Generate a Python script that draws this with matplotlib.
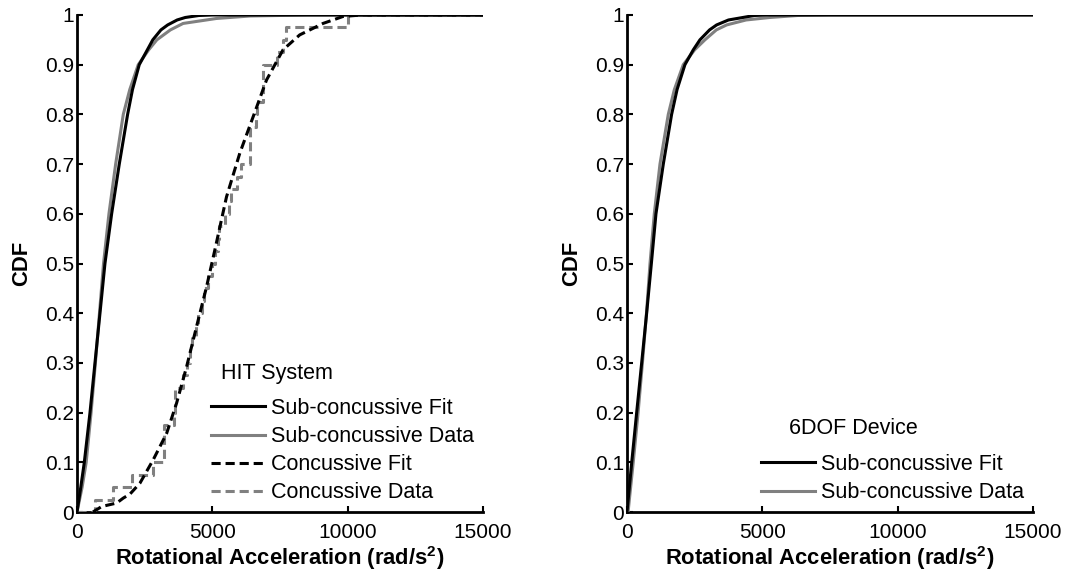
import numpy as np
import matplotlib
matplotlib.use('Agg')
import matplotlib.pyplot as plt

#==============================================================================
#DATA
#==============================================================================

# HIT system, sub-concussive fit / data (CDF value -> rotational acceleration)
hit_sub_fit_cdf = [0, 0.05, 0.1, 0.2, 0.3, 0.4, 0.5, 0.6, 0.7, 0.8, 0.85, 0.9, 0.93, 0.95, 0.97, 0.98, 0.99, 0.995, 0.999, 1.0, 1.0]
hit_sub_fit_acc = [0, 140, 270, 480, 664, 849, 1033, 1280, 1562, 1870, 2050, 2300, 2600, 2800, 3100, 3350, 3700, 4000, 4500, 5000, 15000]

hit_sub_data_cdf = [0, 0.05, 0.1, 0.2, 0.3, 0.4, 0.5, 0.6, 0.7, 0.8, 0.85, 0.9, 0.93, 0.95, 0.97, 0.983, 0.993, 0.998, 1.0, 1.0]
hit_sub_data_acc = [0, 190, 340, 520, 680, 830, 980, 1180, 1428, 1710, 1950, 2262, 2650, 2950, 3450, 3920, 5150, 6400, 8500, 15000]

# HIT system, concussive fit
hit_con_fit_acc = [590, 911, 1464, 1710, 1956, 2325, 2815, 3310, 3679, 4048, 4417, 4786, 5092, 5523, 6015, 6506, 7000, 7612, 8229, 9088, 9826, 10500, 15000]
hit_con_fit_cdf = [0, 0.011, 0.018, 0.028, 0.036, 0.058, 0.105, 0.158, 0.219, 0.292, 0.373, 0.453, 0.527, 0.634, 0.722, 0.795, 0.869, 0.930, 0.960, 0.983, 0.997, 1.0, 1.0]

# HIT system, concussive data (40 impacts, sorted)
hit_con_samples = [660, 1340, 2018, 2815, 3200, 3210, 3220, 3600, 3610, 3620,
                   3900, 4050, 4170, 4250, 4400, 4480, 4600, 4700, 4850, 4970,
                   5100, 5215, 5250, 5450, 5600, 5707, 5900, 6050, 6384, 6390,
                   6400, 6630, 6640, 6875, 6880, 6890, 7400, 7612, 7735, 10012]

# 6DOF device, sub-concussive fit / data
dof_fit_cdf = [0, 0.1, 0.2, 0.3, 0.4, 0.5, 0.6, 0.7, 0.8, 0.85, 0.9, 0.93, 0.95, 0.97, 0.98, 0.99, 0.995, 0.999, 1.0, 1.0]
dof_fit_acc = [0, 175, 357, 542, 726, 900, 1070, 1341, 1648, 1850, 2140, 2450, 2694, 3050, 3310, 3750, 4280, 4700, 5200, 15000]

dof_data_cdf = [0, 0.1, 0.2, 0.3, 0.4, 0.5, 0.6, 0.7, 0.8, 0.85, 0.9, 0.93, 0.95, 0.97, 0.98, 0.99, 0.995, 0.999, 1.0, 1.0]
dof_data_acc = [40, 230, 410, 570, 720, 850, 1008, 1218, 1525, 1750, 2078, 2500, 2878, 3300, 3680, 4400, 5277, 6300, 7500, 15000]

xticks = [0, 5000, 10000, 15000]
yticks = [0, 0.1, 0.2, 0.3, 0.4, 0.5, 0.6, 0.7, 0.8, 0.9, 1]
ytick_labels = ['0', '0.1', '0.2', '0.3', '0.4', '0.5', '0.6', '0.7', '0.8', '0.9', '1']

#==============================================================================
#SETTINGS
#==============================================================================

plt.rcParams['font.family'] = ['Liberation Sans', 'DejaVu Sans']
plt.rcParams['mathtext.fontset'] = 'custom'
plt.rcParams['mathtext.rm'] = 'Liberation Sans'
plt.rcParams['mathtext.bf'] = 'Liberation Sans:bold'

tick_font = 15
label_font = 15.8
legend_font = 15.5
lw = 2.2
grey = '0.5'
dash = (0, (3, 1.6))

#==============================================================================
#PLOTTING
#==============================================================================

f = plt.figure(figsize=(10.68, 5.75), dpi=100)
ax1 = f.add_axes([77/1068, 63/575, 406/1068, 497/575])
ax2 = f.add_axes([627/1068, 63/575, 406/1068, 497/575])

# empirical step curve for concussive data
n = len(hit_con_samples)
con_x = [0] + hit_con_samples + [15000]
con_y = [0] + [(i + 1) / n for i in range(n)] + [1.0]

ax1.plot(hit_sub_fit_acc, hit_sub_fit_cdf, color='k', lw=lw, label='Sub-concussive Fit', zorder=4)
ax1.plot(hit_sub_data_acc, hit_sub_data_cdf, color=grey, lw=lw, label='Sub-concussive Data', zorder=3)
ax1.plot(hit_con_fit_acc, hit_con_fit_cdf, color='k', lw=lw, ls=dash, label='Concussive Fit', zorder=4)
ax1.step(con_x, con_y, where='post', color=grey, lw=lw, ls=dash, label='Concussive Data', zorder=3)

ax2.plot(dof_fit_acc, dof_fit_cdf, color='k', lw=lw, label='Sub-concussive Fit', zorder=4)
ax2.plot(dof_data_acc, dof_data_cdf, color=grey, lw=lw, label='Sub-concussive Data', zorder=3)

for ax in (ax1, ax2):
    ax.set_xlim(0, 15000)
    ax.set_ylim(0, 1)
    ax.set_xticks(xticks)
    ax.set_xticklabels([str(t) for t in xticks])
    ax.set_yticks(yticks)
    ax.set_yticklabels(ytick_labels)
    ax.spines['right'].set_visible(False)
    ax.spines['top'].set_visible(False)
    ax.spines['left'].set_linewidth(2)
    ax.spines['bottom'].set_linewidth(2)
    ax.tick_params(axis='x', direction='in', length=4, width=1.5, labelsize=tick_font, pad=8)
    ax.tick_params(axis='y', direction='in', length=4, width=1.5, labelsize=tick_font, pad=2)
    ax.set_xlabel('Rotational Acceleration (rad/s$^{\\mathbf{2}}$)', fontsize=label_font, fontweight='bold', labelpad=1.5)
    ax.set_ylabel('CDF', fontsize=label_font, fontweight='bold', labelpad=9)

#legends
ax1.legend(loc='upper left', bbox_to_anchor=(211/1068, 1 - 398/575), bbox_transform=f.transFigure,
           frameon=False, fontsize=legend_font, handlelength=2.5, handletextpad=0.3,
           labelspacing=0.33, borderpad=0, borderaxespad=0)
ax2.legend(loc='upper left', bbox_to_anchor=(761/1068, 1 - 454/575), bbox_transform=f.transFigure,
           frameon=False, fontsize=legend_font, handlelength=2.5, handletextpad=0.3,
           labelspacing=0.33, borderpad=0, borderaxespad=0)

f.text(221/1068, 1 - 373/575, 'HIT System', fontsize=legend_font, va='center', ha='left')
f.text(789/1068, 1 - 429/575, '6DOF Device', fontsize=legend_font, va='center', ha='left')

f.savefig('out.png', dpi=100)
